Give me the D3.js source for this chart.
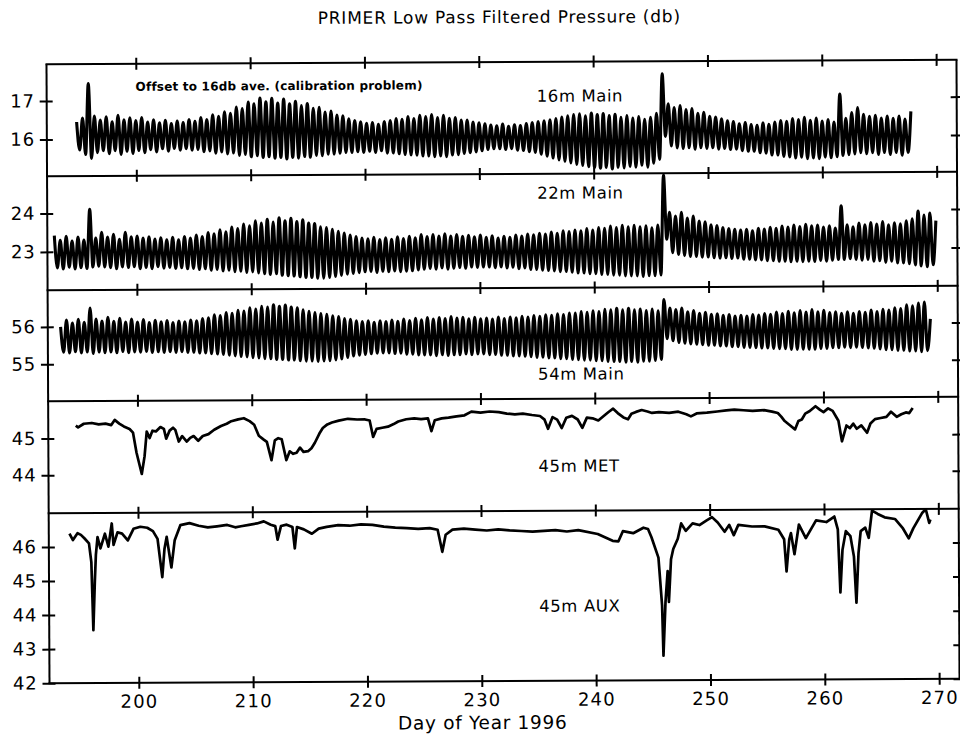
<!DOCTYPE html>
<html>
<head>
<meta charset="utf-8">
<script src="https://cdn.jsdelivr.net/npm/d3@7"></script>
<style>
  body { margin: 0; background: #fff; }
  svg { display: block; }
  text { font-family: "DejaVu Sans", sans-serif; fill: #000; }
</style>
</head>
<body>
<svg id="chart" width="960" height="736"></svg>
<script>
// ---- data ---------------------------------------------------------------
// Semidiurnal tide period (days); the three "Main" records are stored as
// alternating high / low water values, one every half period from the start day.
const tidePeriod = 0.5175;
const dayTicks = [200, 210, 220, 230, 240, 250, 260, 270];

// 16m Main (db), high/low pairs from day 194.8
const main16Start = 194.8;
const main16 = [
  16.45,15.72, 16.55,15.60, 17.45,15.50, 16.60,15.65, 16.50,15.70, 16.58,15.62, 16.45,15.70, 16.62,15.60,
  16.50,15.68, 16.55,15.62, 16.48,15.70, 16.56,15.64, 16.44,15.72, 16.50,15.66, 16.42,15.74, 16.48,15.68,
  16.40,15.75, 16.46,15.70, 16.42,15.74, 16.50,15.70, 16.45,15.72, 16.55,15.66, 16.50,15.68, 16.62,15.62,
  16.58,15.65, 16.70,15.60, 16.66,15.62, 16.82,15.56, 16.78,15.58, 16.95,15.52, 16.90,15.55, 17.05,15.50,
  16.95,15.52, 17.04,15.48, 16.92,15.50, 17.02,15.46, 16.90,15.50, 16.96,15.48, 16.85,15.52, 16.90,15.50,
  16.78,15.55, 16.80,15.54, 16.68,15.58, 16.70,15.58, 16.60,15.60, 16.58,15.62, 16.50,15.62, 16.45,15.64,
  16.42,15.62, 16.38,15.65, 16.40,15.62, 16.35,15.66, 16.42,15.60, 16.45,15.60, 16.50,15.58, 16.48,15.56,
  16.55,15.55, 16.50,15.54, 16.58,15.52, 16.55,15.52, 16.60,15.50, 16.52,15.52, 16.58,15.50, 16.50,15.54,
  16.52,15.55, 16.45,15.58, 16.45,15.60, 16.40,15.62, 16.38,15.65, 16.35,15.68, 16.32,15.70, 16.30,15.70,
  16.34,15.68, 16.28,15.70, 16.32,15.66, 16.30,15.65, 16.35,15.62, 16.38,15.60, 16.40,15.55, 16.42,15.50,
  16.45,15.45, 16.48,15.40, 16.52,15.36, 16.55,15.32, 16.58,15.28, 16.60,15.25, 16.55,15.22, 16.62,15.20,
  16.58,15.18, 16.60,15.20, 16.55,15.16, 16.58,15.20, 16.50,15.18, 16.55,15.22, 16.48,15.20, 16.52,15.25,
  16.45,15.20, 16.50,15.30, 16.60,15.40, 17.63,16.00, 16.85,15.75, 16.75,15.70, 16.80,15.68, 16.70,15.70,
  16.72,15.66, 16.60,15.70, 16.62,15.68, 16.52,15.70, 16.50,15.66, 16.45,15.68, 16.40,15.65, 16.38,15.66,
  16.32,15.62, 16.35,15.60, 16.30,15.60, 16.28,15.56, 16.34,15.55, 16.30,15.50, 16.36,15.50, 16.40,15.46,
  16.38,15.45, 16.45,15.42, 16.42,15.44, 16.48,15.40, 16.40,15.42, 16.46,15.40, 16.38,15.44, 16.42,15.42,
  16.35,15.45, 17.08,15.48, 16.45,15.50, 16.60,15.52, 16.73,15.55, 16.55,15.52, 16.50,15.55, 16.52,15.50,
  16.45,15.55, 16.50,15.50, 16.44,15.55, 16.50,15.48, 16.42,15.55, 16.62
];

// 22m Main (db), high/low pairs from day 192.8
const main22Start = 192.8;
const main22 = [
  23.42,22.58, 23.30,22.55, 23.40,22.60, 23.28,22.55, 23.38,22.58, 23.30,22.56, 24.10,22.60, 23.35,22.62,
  23.50,22.60, 23.38,22.58, 23.45,22.55, 23.32,22.60, 23.50,22.58, 23.38,22.60, 23.40,22.55, 23.35,22.58,
  23.38,22.55, 23.32,22.60, 23.35,22.56, 23.30,22.58, 23.36,22.55, 23.30,22.57, 23.38,22.54, 23.34,22.55,
  23.42,22.52, 23.38,22.54, 23.48,22.50, 23.45,22.52, 23.55,22.48, 23.50,22.50, 23.62,22.46, 23.58,22.47,
  23.70,22.44, 23.65,22.45, 23.78,22.42, 23.72,22.40, 23.82,22.38, 23.75,22.40, 23.86,22.36, 23.78,22.35,
  23.84,22.34, 23.76,22.32, 23.80,22.30, 23.72,22.30, 23.70,22.28, 23.62,22.28, 23.60,22.30, 23.55,22.32,
  23.50,22.35, 23.45,22.38, 23.40,22.40, 23.36,22.42, 23.32,22.44, 23.30,22.45, 23.34,22.42, 23.28,22.45,
  23.32,22.44, 23.28,22.46, 23.35,22.44, 23.30,22.45, 23.36,22.46, 23.32,22.48, 23.40,22.50, 23.35,22.52,
  23.40,22.50, 23.36,22.53, 23.42,22.50, 23.36,22.52, 23.40,22.54, 23.35,22.52, 23.38,22.55, 23.34,22.54,
  23.38,22.55, 23.32,22.55, 23.36,22.53, 23.30,22.55, 23.35,22.52, 23.32,22.54, 23.38,22.50, 23.35,22.52,
  23.40,22.48, 23.38,22.48, 23.42,22.46, 23.40,22.45, 23.45,22.44, 23.42,22.42, 23.48,22.42, 23.46,22.40,
  23.50,22.38, 23.48,22.38, 23.54,22.36, 23.50,22.36, 23.56,22.34, 23.54,22.34, 23.60,22.32, 23.56,22.32,
  23.62,22.30, 23.58,22.30, 23.62,22.30, 23.58,22.28, 23.60,22.30, 23.55,22.30, 23.62,22.32, 24.92,23.25,
  23.95,22.90, 23.85,22.85, 23.95,22.82, 23.80,22.80, 23.85,22.80, 23.72,22.78, 23.70,22.78, 23.62,22.76,
  23.60,22.75, 23.55,22.76, 23.52,22.74, 23.50,22.75, 23.48,22.72, 23.50,22.72, 23.46,22.70, 23.52,22.70,
  23.50,22.68, 23.55,22.68, 23.52,22.66, 23.58,22.66, 23.55,22.65, 23.60,22.66, 23.56,22.65, 23.62,22.66,
  23.58,22.65, 23.60,22.68, 23.55,22.66, 23.58,22.68, 23.52,22.70, 24.10,22.70, 23.60,22.72, 23.55,22.70,
  23.65,22.68, 23.60,22.70, 23.66,22.65, 23.62,22.66, 23.68,22.62, 23.60,22.65, 23.65,22.60, 23.62,22.60,
  23.70,22.58, 23.75,22.55, 23.95,22.52, 23.85,22.50, 23.90,22.55, 23.70
];

// 54m Main (db), high/low pairs from day 193.31
const main54Start = 193.31;
const main54 = [
  56.00,55.32, 56.18,55.30, 56.10,55.33, 56.20,55.30, 56.12,55.32, 56.50,55.28, 56.20,55.32, 56.15,55.30,
  56.25,55.32, 56.14,55.30, 56.22,55.33, 56.12,55.30, 56.20,55.32, 56.12,55.31, 56.18,55.33, 56.10,55.30,
  56.16,55.32, 56.12,55.30, 56.15,55.32, 56.10,55.30, 56.14,55.32, 56.12,55.30, 56.16,55.30, 56.14,55.28,
  56.20,55.28, 56.22,55.26, 56.30,55.25, 56.28,55.24, 56.36,55.22, 56.34,55.20, 56.42,55.18, 56.40,55.17,
  56.48,55.15, 56.45,55.14, 56.52,55.12, 56.50,55.12, 56.56,55.10, 56.52,55.10, 56.55,55.08, 56.50,55.08,
  56.48,55.06, 56.42,55.05, 56.38,55.05, 56.35,55.04, 56.32,55.05, 56.30,55.06, 56.26,55.08, 56.24,55.10,
  56.18,55.14, 56.16,55.18, 56.12,55.20, 56.10,55.22, 56.12,55.24, 56.08,55.25, 56.12,55.26, 56.10,55.26,
  56.14,55.24, 56.10,55.25, 56.16,55.22, 56.12,55.22, 56.18,55.20, 56.14,55.20, 56.20,55.20, 56.16,55.18,
  56.20,55.20, 56.17,55.18, 56.22,55.20, 56.18,55.20, 56.20,55.22, 56.16,55.20, 56.20,55.22, 56.16,55.22,
  56.18,55.20, 56.15,55.20, 56.20,55.18, 56.16,55.18, 56.20,55.16, 56.18,55.16, 56.22,55.15, 56.20,55.14,
  56.24,55.12, 56.22,55.12, 56.26,55.10, 56.24,55.10, 56.28,55.08, 56.26,55.08, 56.30,55.06, 56.30,55.05,
  56.34,55.04, 56.32,55.04, 56.36,55.02, 56.34,55.02, 56.40,55.00, 56.38,55.00, 56.42,55.00, 56.38,54.98,
  56.42,55.00, 56.38,54.98, 56.40,55.00, 56.36,55.00, 56.40,55.02, 56.35,55.05, 56.65,55.60, 56.42,55.55,
  56.38,55.50, 56.42,55.48, 56.32,55.46, 56.35,55.45, 56.28,55.44, 56.30,55.42, 56.25,55.42, 56.26,55.40,
  56.22,55.40, 56.24,55.38, 56.20,55.38, 56.22,55.36, 56.20,55.36, 56.24,55.35, 56.22,55.34, 56.26,55.34,
  56.24,55.33, 56.30,55.32, 56.26,55.32, 56.32,55.30, 56.28,55.30, 56.34,55.30, 56.30,55.30, 56.36,55.30,
  56.30,55.32, 56.34,55.32, 56.28,55.34, 56.30,55.34, 56.26,55.35, 56.30,55.34, 56.26,55.35, 56.30,55.34,
  56.28,55.33, 56.34,55.32, 56.30,55.30, 56.36,55.28, 56.34,55.28, 56.40,55.26, 56.38,55.26, 56.48,55.24,
  56.45,55.24, 56.52,55.22, 56.55,55.25, 56.10
];

// 45m MET (db), irregular samples
const metDays = [
  194.6, 194.8, 195.3, 196.0, 196.6, 197.2, 197.7, 198.0, 198.4, 198.8, 199.3, 199.6, 199.9, 200.35, 200.6,
  200.8, 201.05, 201.3, 201.6, 202.0, 202.3, 202.5, 202.8, 203.1, 203.3, 203.6, 203.9, 204.3, 204.6, 204.9,
  205.3, 205.7, 206.2, 206.7, 207.3, 207.8, 208.2, 208.8, 209.3, 209.8, 210.2, 210.6, 211.0, 211.3, 211.7,
  212.0, 212.3, 212.6, 213.0, 213.3, 213.6, 213.9, 214.2, 214.5, 214.9, 215.2, 215.5, 215.9, 216.2, 216.6,
  217.0, 217.6, 218.4, 219.2, 219.9, 220.3, 220.6, 220.9, 221.4, 221.9, 222.4, 222.8, 223.5, 224.2, 224.8,
  225.4, 225.7, 226.0, 226.6, 227.2, 227.9, 228.6, 229.2, 230.0, 230.8, 231.6, 232.3, 233.0, 233.7, 234.5,
  235.2, 235.6, 235.9, 236.3, 236.7, 237.1, 237.5, 238.0, 238.5, 238.9, 239.3, 239.8, 240.3, 240.8, 241.2,
  241.6, 242.0, 242.5, 242.9, 243.2, 243.6, 244.1, 244.6, 245.0, 245.6, 246.5, 247.3, 248.0, 248.4, 248.9,
  249.8, 250.7, 251.5, 252.2, 253.0, 253.8, 254.8, 255.5, 256.0, 256.3, 256.6, 257.0, 257.5, 257.8, 258.1,
  258.4, 258.8, 259.3, 259.7, 260.0, 260.4, 260.8, 261.3, 261.6, 262.0, 262.3, 262.6, 262.9, 263.3, 263.8,
  264.1, 264.5, 265.0, 265.5, 265.9, 266.4, 266.8, 267.2, 267.5, 267.8
];
const metVals = [
  45.35, 45.30, 45.40, 45.42, 45.38, 45.40, 45.36, 45.50, 45.40, 45.32, 45.25, 45.15, 44.60, 44.02, 44.50,
  45.18, 45.00, 45.20, 45.18, 45.30, 45.25, 44.98, 45.20, 45.28, 45.22, 44.90, 45.05, 44.90, 45.00, 45.05,
  44.92, 45.05, 45.10, 45.22, 45.32, 45.38, 45.45, 45.50, 45.53, 45.45, 45.35, 45.05, 44.95, 44.88, 44.38,
  44.92, 44.98, 44.95, 44.38, 44.62, 44.55, 44.58, 44.72, 44.60, 44.62, 44.70, 44.85, 45.10, 45.25, 45.35,
  45.40, 45.45, 45.50, 45.48, 45.48, 45.45, 45.00, 45.22, 45.25, 45.28, 45.35, 45.42, 45.48, 45.50, 45.48,
  45.50, 45.15, 45.45, 45.50, 45.52, 45.55, 45.58, 45.68, 45.65, 45.68, 45.66, 45.62, 45.60, 45.62, 45.58,
  45.55, 45.45, 45.20, 45.52, 45.45, 45.22, 45.50, 45.55, 45.45, 45.22, 45.50, 45.48, 45.42, 45.55, 45.65,
  45.74, 45.62, 45.50, 45.45, 45.60, 45.65, 45.70, 45.66, 45.62, 45.64, 45.62, 45.65, 45.58, 45.52, 45.60,
  45.62, 45.65, 45.68, 45.70, 45.68, 45.66, 45.68, 45.64, 45.60, 45.50, 45.38, 45.28, 45.15, 45.38, 45.42,
  45.58, 45.65, 45.78, 45.68, 45.62, 45.72, 45.65, 45.38, 44.82, 45.25, 45.18, 45.30, 45.16, 45.25, 45.05,
  45.30, 45.42, 45.45, 45.48, 45.62, 45.48, 45.55, 45.60, 45.58, 45.72
];

// 45m AUX (db), irregular samples
const auxDays = [
  194.0, 194.3, 194.7, 195.0, 195.3, 195.7, 195.9, 196.05, 196.2, 196.3, 196.45, 196.7, 197.1, 197.4, 197.7,
  197.85, 198.2, 198.6, 199.1, 199.6, 200.2, 200.8, 201.3, 201.7, 202.1, 202.3, 202.5, 202.9, 203.2, 203.7,
  204.5, 205.3, 206.1, 206.9, 207.8, 208.5, 209.0, 209.7, 210.4, 211.0, 211.6, 212.0, 212.2, 212.5, 213.0,
  213.5, 213.7, 213.9, 214.5, 215.2, 215.8, 216.5, 217.5, 218.5, 219.5, 220.5, 221.5, 222.5, 223.5, 224.5,
  225.5, 226.2, 226.6, 226.9, 227.5, 228.5, 229.5, 230.5, 231.5, 232.5, 233.5, 234.5, 235.5, 236.5, 237.5,
  238.5, 240.2, 241.5, 242.0, 242.4, 243.3, 244.2, 244.6, 244.9, 245.5, 245.8, 245.9, 246.1, 246.3, 246.4,
  246.6, 246.8, 247.2, 247.5, 247.9, 248.5, 249.1, 249.7, 250.2, 250.7, 251.3, 251.7, 252.1, 252.5, 253.7,
  254.8, 256.0, 256.5, 256.7, 256.95, 257.1, 257.4, 257.8, 258.4, 259.3, 260.2, 260.9, 261.2, 261.4, 261.6,
  261.9, 262.3, 262.6, 262.8, 263.0, 263.2, 263.6, 263.9, 264.2, 264.7, 265.3, 266.2, 266.9, 267.4, 267.8,
  268.6, 268.9, 269.2, 269.3
];
const auxVals = [
  46.39, 46.20, 46.40, 46.35, 46.25, 46.10, 45.55, 43.55, 45.00, 45.76, 46.28, 45.95, 46.38, 46.00, 46.68,
  46.05, 46.42, 46.38, 46.18, 46.52, 46.58, 46.55, 46.45, 46.22, 45.10, 45.92, 46.28, 45.38, 46.18, 46.62,
  46.68, 46.60, 46.55, 46.58, 46.62, 46.55, 46.58, 46.62, 46.66, 46.72, 46.62, 46.58, 46.18, 46.58, 46.62,
  46.55, 45.92, 46.55, 46.48, 46.35, 46.50, 46.55, 46.60, 46.58, 46.62, 46.60, 46.55, 46.52, 46.50, 46.48,
  46.50, 46.45, 45.80, 46.30, 46.45, 46.48, 46.45, 46.42, 46.45, 46.42, 46.40, 46.38, 46.40, 46.42, 46.38,
  46.42, 46.30, 46.10, 46.08, 46.38, 46.32, 46.48, 46.44, 46.20, 45.60, 44.20, 42.72, 44.30, 45.20, 44.30,
  45.55, 45.85, 46.15, 46.60, 46.38, 46.60, 46.55, 46.68, 46.78, 46.62, 46.35, 46.55, 46.25, 46.55, 46.50,
  46.50, 46.40, 46.12, 45.18, 46.12, 46.30, 45.68, 46.55, 46.15, 46.67, 46.62, 46.78, 46.40, 44.55, 45.80,
  46.35, 46.20, 45.60, 44.25, 45.70, 46.35, 46.45, 46.15, 46.95, 46.85, 46.75, 46.70, 46.42, 46.13, 46.42,
  46.88, 46.98, 46.58, 46.68
];

// Tick values on the pressure axes
const ticks16 = [16, 17];
const ticks22 = [23, 24];
const ticks54 = [55, 56];
const ticksMet = [44, 45];
const ticksAux = [42, 43, 44, 45, 46];

// ---- helpers ------------------------------------------------------------
function tideSeries(start, values) {
  return values.map((v, k) => ({ day: start + k * tidePeriod / 2, value: v }));
}
function pairSeries(days, values) {
  return days.map((d, k) => ({ day: d, value: values[k] }));
}

// ---- layout -------------------------------------------------------------
const left = 48, right = 958;
const panels = [
  { top: 62,  bottom: 174, domain: [15.04, 17.96], ticks: ticks16,  series: tideSeries(main16Start, main16), curve: d3.curveMonotoneX, label: "16m Main", labelY: 102 },
  { top: 174, bottom: 288, domain: [22.00, 24.97], ticks: ticks22,  series: tideSeries(main22Start, main22), curve: d3.curveMonotoneX, label: "22m Main", labelY: 199 },
  { top: 288, bottom: 399, domain: [54.01, 56.98], ticks: ticks54,  series: tideSeries(main54Start, main54), curve: d3.curveMonotoneX, label: "54m Main", labelY: 380 },
  { top: 399, bottom: 511, domain: [42.96, 46.02], ticks: ticksMet, series: pairSeries(metDays, metVals),     curve: d3.curveLinear,    label: "45m MET",  labelY: 472 },
  { top: 511, bottom: 681, domain: [42.00, 46.99], ticks: ticksAux, series: pairSeries(auxDays, auxVals),     curve: d3.curveLinear,    label: "45m AUX",  labelY: 612 }
];

const svg = d3.select("#chart");
// the whole sheet sits at a slight tilt
const sheet = svg.append("g").attr("transform", "rotate(-0.28, 503, 372)");
const x = d3.scaleLinear().domain([192.19, 271.78]).range([left, right]);

// title
sheet.append("text")
  .attr("x", 501).attr("y", 23)
  .attr("text-anchor", "middle")
  .attr("font-size", 17)
  .attr("letter-spacing", 0.8)
  .text("PRIMER Low Pass Filtered Pressure (db)");

const defs = svg.append("defs");

panels.forEach((p, i) => {
  const y = d3.scaleLinear().domain(p.domain).range([p.bottom, p.top]);
  const g = sheet.append("g");

  defs.append("clipPath").attr("id", "clip" + i)
    .append("rect")
    .attr("x", left).attr("y", p.top)
    .attr("width", right - left).attr("height", p.bottom - p.top);

  // record
  g.append("path")
    .datum(p.series)
    .attr("clip-path", `url(#clip${i})`)
    .attr("fill", "none")
    .attr("stroke", "#000")
    .attr("stroke-width", i < 3 ? 3.1 : 2.7)
    .attr("stroke-linejoin", "round")
    .attr("d", d3.line().x(d => x(d.day)).y(d => y(d.value)).curve(p.curve));

  // left axis: ticks crossing the frame
  const la = g.append("g").attr("transform", `translate(${left},0)`)
    .call(d3.axisLeft(y).tickValues(p.ticks).tickSize(7).tickPadding(5).tickFormat(d3.format("d")));
  la.select(".domain").remove();
  la.selectAll(".tick line").attr("x1", 6).attr("stroke", "#000").attr("stroke-width", 2);
  la.selectAll(".tick text")
    .attr("font-size", 18).attr("letter-spacing", 0.8)
    .attr("font-family", "\"DejaVu Sans\", sans-serif").attr("fill", "#000");

  // right axis
  const ra = g.append("g").attr("transform", `translate(${right},0)`)
    .call(d3.axisRight(y).tickValues(p.ticks).tickSize(6).tickFormat(""));
  ra.select(".domain").remove();
  ra.selectAll(".tick line").attr("x1", -6).attr("stroke", "#000").attr("stroke-width", 2);

  // panel name
  g.append("text")
    .attr("x", 538).attr("y", p.labelY)
    .attr("font-size", 16.5).attr("letter-spacing", 0.6)
    .text(p.label);
});

// frame lines and the day ticks on every panel boundary
const edges = [62, 174, 288, 399, 511, 681];
edges.forEach(ey => {
  const a = sheet.append("g").attr("transform", `translate(0,${ey})`)
    .call(d3.axisBottom(x).tickValues(dayTicks).tickSize(6).tickFormat(""));
  a.select(".domain").remove();
  a.selectAll(".tick line").attr("y1", -6).attr("stroke", "#000").attr("stroke-width", 2);
  sheet.append("line")
    .attr("x1", left - 1).attr("x2", right + 1).attr("y1", ey).attr("y2", ey)
    .attr("stroke", "#000").attr("stroke-width", 2);
});
sheet.append("line").attr("x1", left).attr("x2", left).attr("y1", 62).attr("y2", 681)
  .attr("stroke", "#000").attr("stroke-width", 2);
sheet.append("line").attr("x1", right).attr("x2", right).attr("y1", 62).attr("y2", 681)
  .attr("stroke", "#000").attr("stroke-width", 2);

// day labels
sheet.append("g").selectAll("text").data(dayTicks).join("text")
  .attr("x", d => x(d) + 0.6).attr("y", 706)
  .attr("text-anchor", "middle")
  .attr("font-size", 18).attr("letter-spacing", 1.2)
  .text(d => d);

sheet.append("text")
  .attr("x", 481).attr("y", 729)
  .attr("text-anchor", "middle")
  .attr("font-size", 18.5).attr("letter-spacing", 0.7)
  .text("Day of Year 1996");

// note on the 16m record
sheet.append("text")
  .attr("x", 137).attr("y", 89)
  .attr("font-size", 12).attr("font-weight", "bold").attr("letter-spacing", 0.2)
  .text("Offset to 16db ave. (calibration problem)");
</script>
</body>
</html>
